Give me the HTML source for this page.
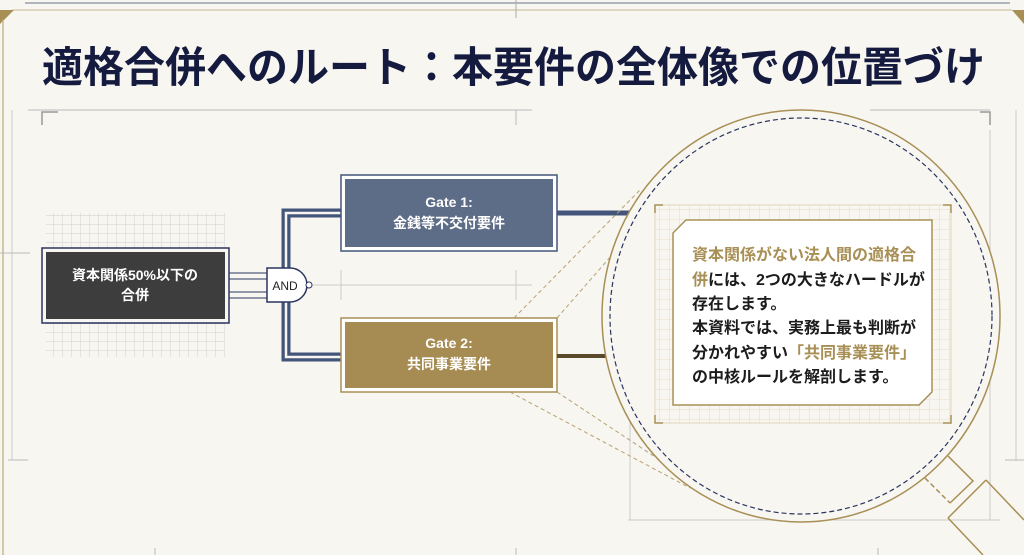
<!DOCTYPE html>
<html><head><meta charset="utf-8"><style>
body{margin:0;width:1024px;height:555px;overflow:hidden;background:#f7f6f1;font-family:"Liberation Sans","Noto Sans CJK JP",sans-serif}
</style></head><body>
<svg width="1024" height="555" viewBox="0 0 1024 555" xmlns="http://www.w3.org/2000/svg" style="position:absolute;left:0;top:0">
<defs>
<pattern id="g" width="9" height="9" patternUnits="userSpaceOnUse"><path d="M9 0V9H0" fill="none" stroke="#cfcfcf" stroke-width="0.9"/></pattern>
<pattern id="gg" width="10" height="10" patternUnits="userSpaceOnUse"><path d="M10 0V10H0" fill="none" stroke="#e3d7bb" stroke-width="0.8"/></pattern>
</defs>
<rect width="1024" height="555" fill="#f7f6f1"/>
<line x1="25" y1="3" x2="1010" y2="3" stroke="#9aa0ae" stroke-width="1.5"/>
<line x1="12" y1="10" x2="1012" y2="10" stroke="#c8b88e" stroke-width="1"/>
<line x1="516" y1="0" x2="516" y2="18" stroke="#aaa" stroke-width="1"/>
<polygon points="0,10 14,10 0,24" fill="#a88f55"/>
<polygon points="1024,10 1012,10 1024,24" fill="#a88f55"/>
<line x1="3" y1="20" x2="3" y2="555" stroke="#c8b88e" stroke-width="1.5"/>
<line x1="12" y1="110" x2="12" y2="460" stroke="#ccc" stroke-width="1"/>
<line x1="1016" y1="110" x2="1016" y2="460" stroke="#ccc" stroke-width="1"/>
<line x1="28" y1="110" x2="532" y2="110" stroke="#bbb" stroke-width="1"/>
<line x1="870" y1="110" x2="990" y2="110" stroke="#bbb" stroke-width="1"/>
<polyline points="42,125 42,112 58,112" fill="none" stroke="#999" stroke-width="1.5"/>
<polyline points="980,112 990,112 990,125" fill="none" stroke="#999" stroke-width="1.5"/>
<line x1="516" y1="110" x2="516" y2="125" stroke="#bbb"/>
<line x1="0" y1="253" x2="30" y2="253" stroke="#bbb"/>
<line x1="8" y1="460" x2="28" y2="460" stroke="#bbb"/>
<line x1="1005" y1="460" x2="1024" y2="460" stroke="#bbb"/>
<line x1="155" y1="548" x2="155" y2="555" stroke="#bbb"/>
<line x1="516" y1="548" x2="516" y2="555" stroke="#bbb"/>
<line x1="878" y1="548" x2="878" y2="555" stroke="#bbb"/>
<line x1="990" y1="130" x2="990" y2="520" stroke="#ccc"/>
<line x1="628" y1="520" x2="1000" y2="520" stroke="#ccc"/>
<line x1="630" y1="420" x2="630" y2="520" stroke="#ccc"/>
<line x1="306" y1="285" x2="532" y2="285" stroke="#ccc"/>
<line x1="341" y1="270" x2="341" y2="300" stroke="#ccc"/>
<line x1="516" y1="270" x2="516" y2="300" stroke="#ccc"/>
<text x="42" y="82" font-size="42" font-weight="bold" fill="#151a3f" textLength="943" lengthAdjust="spacingAndGlyphs">適格合併へのルート：本要件の全体像での位置づけ</text>
<rect x="46" y="213" width="179" height="144" fill="url(#g)"/>
<rect x="42" y="248" width="187" height="75" fill="#f7f6f1" stroke="#2b3560" stroke-width="1.5"/>
<rect x="46" y="252" width="179" height="67" fill="#3d3d3d"/>
<text x="135" y="280" font-size="14" font-weight="bold" fill="#fff" text-anchor="middle">資本関係50%以下の</text>
<text x="135" y="300" font-size="14" font-weight="bold" fill="#fff" text-anchor="middle">合併</text>
<g stroke="#2b3560" stroke-width="1"><line x1="229" y1="273" x2="267" y2="273"/><line x1="229" y1="279" x2="267" y2="279"/><line x1="229" y1="292" x2="267" y2="292"/><line x1="229" y1="298" x2="267" y2="298"/></g>
<path d="M341 213 H286 V357 H341" fill="none" stroke="#43557a" stroke-width="9"/>
<path d="M341 213 H286 V357 H341" fill="none" stroke="#f7f6f1" stroke-width="2.5"/>
<path d="M267 268 H290 A17 17 0 0 1 290 302 H267 Z" fill="#fff" stroke="#2b3560" stroke-width="1.5"/>
<text x="285" y="290" font-size="12" fill="#222" text-anchor="middle">AND</text>
<circle cx="309" cy="285" r="3" fill="#fff" stroke="#2b3560" stroke-width="1"/>
<rect x="341" y="175" width="216" height="76" fill="#fff" stroke="#43557a" stroke-width="1.5"/>
<rect x="345" y="179" width="208" height="68" fill="#5e6d87"/>
<text x="449" y="207" font-size="14" font-weight="bold" fill="#fff" text-anchor="middle">Gate 1:</text>
<text x="449" y="228" font-size="14" font-weight="bold" fill="#fff" text-anchor="middle">金銭等不交付要件</text>
<rect x="341" y="318" width="216" height="74" fill="#fff" stroke="#a88f55" stroke-width="1.5"/>
<rect x="345" y="322" width="208" height="66" fill="#a68c53"/>
<text x="449" y="348" font-size="14" font-weight="bold" fill="#fff" text-anchor="middle">Gate 2:</text>
<text x="449" y="369" font-size="14" font-weight="bold" fill="#fff" text-anchor="middle">共同事業要件</text>
<path d="M557 213 H630" stroke="#43557a" stroke-width="5" fill="none"/>
<path d="M557 356 H610" stroke="#5a4a2a" stroke-width="4" fill="none"/>
<g stroke="#b9a070" stroke-width="1" stroke-dasharray="4 3" fill="none">
<line x1="514" y1="318" x2="640" y2="190"/><line x1="557" y1="318" x2="660" y2="200"/>
<line x1="510" y1="392" x2="690" y2="488"/><line x1="557" y1="392" x2="690" y2="480"/>
</g>
<ellipse cx="801" cy="316" rx="199" ry="206" fill="#f7f6f1" stroke="#a88f55" stroke-width="1.5"/>
<ellipse cx="801" cy="316" rx="191" ry="198" fill="none" stroke="#2b3560" stroke-width="1.2" stroke-dasharray="5 3"/>
<g stroke="#a88f55" stroke-width="1.5" fill="none">
<polyline points="948,456 973,481 950,503"/>
<polyline points="925,478 950,503" stroke-dasharray="5 3"/>
<polyline points="986,480 1024,520"/>
<polyline points="948,518 983,555"/>
<line x1="948" y1="518" x2="986" y2="480"/>
</g>
<rect x="655" y="205" width="296" height="218" fill="url(#gg)" stroke="#e3d7bb"/>
<polyline points="655,213 655,205 663,205" fill="none" stroke="#a88f55" stroke-width="1.5"/>
<polyline points="943,205 951,205 951,213" fill="none" stroke="#a88f55" stroke-width="1.5"/>
<polyline points="655,415 655,423 663,423" fill="none" stroke="#a88f55" stroke-width="1.5"/>
<polyline points="943,423 951,423 951,415" fill="none" stroke="#a88f55" stroke-width="1.5"/>
<path d="M686 220 H932 V392 L919 405 H673 V233 Z" fill="#fff" stroke="#a88f55" stroke-width="1.5"/>
<g font-size="16" font-weight="bold" fill="#1c1c1c">
<text x="692" y="260" fill="#a88f55">資本関係がない法人間の適格合</text>
<text x="692" y="285"><tspan fill="#a88f55">併</tspan>には、2つの大きなハードルが</text>
<text x="692" y="309">存在します。</text>
<text x="692" y="333">本資料では、実務上最も判断が</text>
<text x="692" y="358">分かれやすい<tspan fill="#a88f55">「共同事業要件」</tspan></text>
<text x="692" y="382">の中核ルールを解剖します。</text>
</g>
</svg>
</body></html>
